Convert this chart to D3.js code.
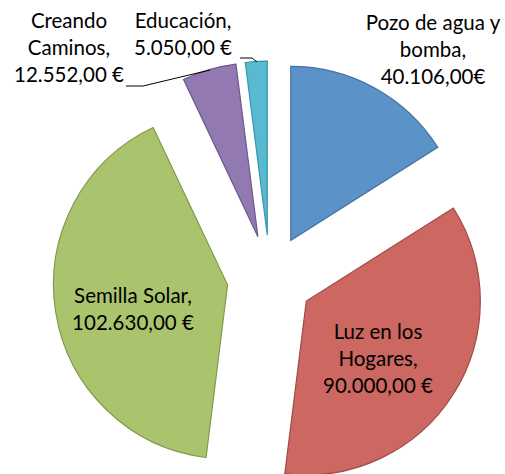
<!DOCTYPE html>
<html>
<head>
<meta charset="utf-8">
<script src="https://cdn.jsdelivr.net/npm/d3@7"></script>
<style>
  html, body { margin: 0; padding: 0; background: #fff; }
  svg { display: block; }
  text { font-family: Lato, "Open Sans", sans-serif; font-size: 20.5px; fill: #000; }
</style>
</head>
<body>
<svg id="chart" width="505" height="474"></svg>
<script>
// slice data (clockwise from 12 o'clock)
const categories = ['Pozo de agua y bomba', 'Luz en los Hogares', 'Semilla Solar', 'Creando Caminos', 'Educación'];
const values = [40106, 90000, 102630, 12552, 5050];
const labelLines = [
    ['Pozo de agua y', 'bomba,', '40.106,00€'],
    ['Luz en los', 'Hogares,', '90.000,00 €'],
    ['Semilla Solar,', '102.630,00 €'],
    ['Creando', 'Caminos,', '12.552,00 €'],
    ['Educación,', '5.050,00 €']
];
const fills = ['#5b93c8', '#cc6761', '#aac46d', '#9279b1', '#57bad1'];
const strokes = ['#44729f', '#9d4b47', '#80994b', '#6c588a', '#3a96aa'];

const svg = d3.select('#chart');
const cx = 270, cy = 278;
const radius = 174;
const explode = 43;
const lineH = 27;

const pie = d3.pie().sort(null).value(d => d)(values);
const arc = d3.arc().innerRadius(0).outerRadius(radius);

const g = svg.append('g').attr('transform', `translate(${cx},${cy})`);

// exploded slices
g.selectAll('path.slice')
    .data(pie)
    .enter()
    .append('path')
    .attr('class', 'slice')
    .attr('d', arc)
    .attr('fill', (d, i) => fills[i])
    .attr('stroke', (d, i) => strokes[i])
    .attr('stroke-width', 1.2)
    .attr('transform', d => {
        const mid = (d.startAngle + d.endAngle) / 2;
        return `translate(${explode * Math.sin(mid)},${-explode * Math.cos(mid)})`;
    });

// label anchors (center x, first baseline y)
const labelAt = [[433, 30], [378, 339], [133, 303], [69, 28], [183, 28]];

labelLines.forEach((lines, i) => {
    const t = svg.append('text').attr('text-anchor', 'middle');
    lines.forEach((s, j) => {
        t.append('tspan')
            .attr('x', labelAt[i][0])
            .attr('y', labelAt[i][1] + j * lineH)
            .text(s);
    });
});

// leader lines for the two small slices
const leader = d3.line();
svg.append('path')
    .attr('d', leader([[126, 86], [143, 86], [210, 70]]))
    .attr('fill', 'none').attr('stroke', '#000').attr('stroke-width', 1);
svg.append('path')
    .attr('d', leader([[240, 58], [252, 58], [257, 62]]))
    .attr('fill', 'none').attr('stroke', '#000').attr('stroke-width', 1);
</script>
</body>
</html>
